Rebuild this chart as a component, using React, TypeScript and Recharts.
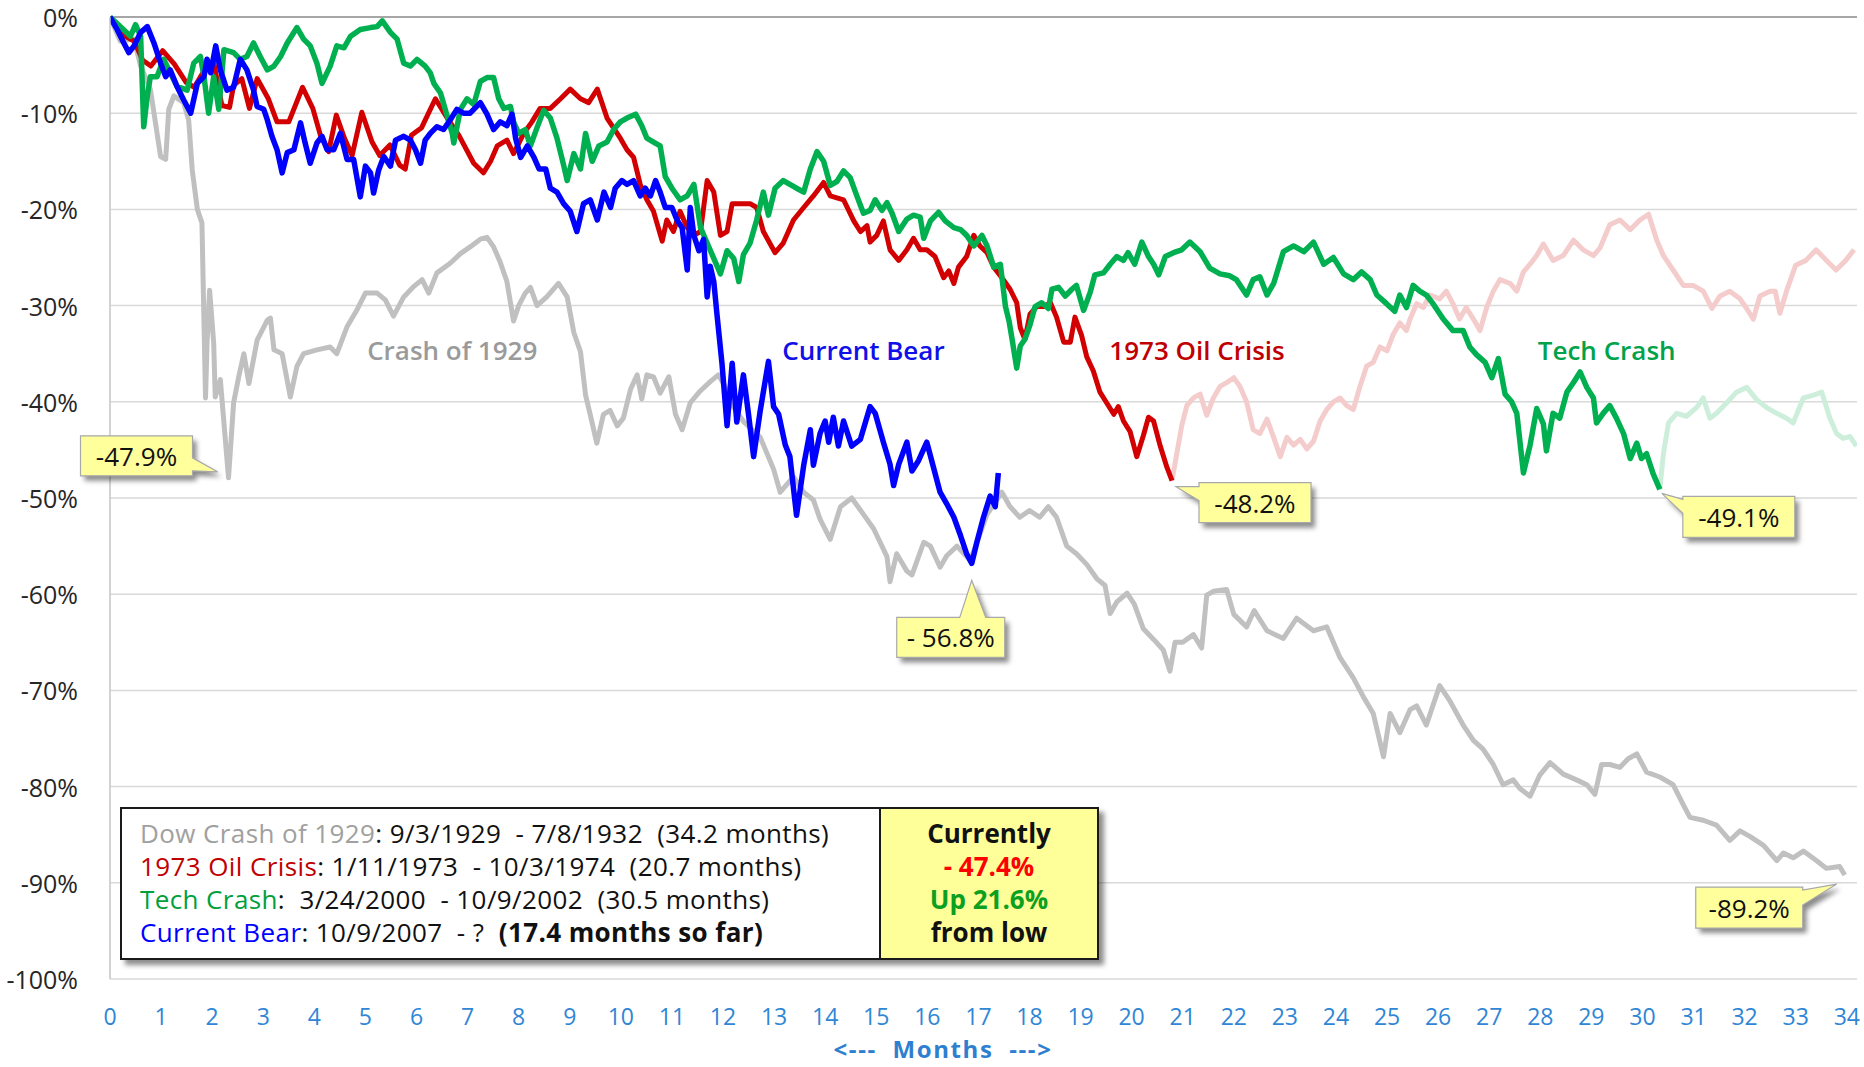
import React from "react";
import {
  LineChart,
  Line,
  XAxis,
  YAxis,
  CartesianGrid,
  ReferenceLine,
  ReferenceDot,
} from "recharts";

// [month, % from peak]
const CRASH_1929: [number, number][] = [
  [0, 0], [0.2, -2.5], [0.47, -2.3], [0.6, -5.1], [0.79, -7.5], [0.99, -14.5], [1.09, -14.8], [1.15, -9.6],
  [1.25, -8.2], [1.44, -8.9], [1.54, -10.7], [1.61, -15.9], [1.71, -20.0], [1.8, -21.4], [1.87, -39.6], [1.9, -33.9],
  [1.95, -28.4], [2.03, -33.9], [2.06, -39.5], [2.16, -37.7], [2.32, -47.9], [2.42, -40.1], [2.52, -37.4], [2.62, -35.0],
  [2.72, -38.1], [2.88, -33.6], [3.08, -31.5], [3.14, -31.3], [3.21, -34.6], [3.37, -35.0], [3.53, -39.5], [3.66, -36.3],
  [3.79, -35.0], [4.05, -34.6], [4.31, -34.3], [4.44, -35.0], [4.64, -32.2], [4.84, -30.4], [5.0, -28.7], [5.23, -28.7],
  [5.39, -29.4], [5.55, -31.1], [5.75, -29.1], [5.95, -28.0], [6.11, -27.3], [6.24, -28.7], [6.4, -26.6], [6.66, -25.6],
  [6.86, -24.6], [7.05, -23.9], [7.25, -23.1], [7.38, -22.9], [7.51, -23.9], [7.64, -25.5], [7.77, -27.5], [7.9, -31.6],
  [8.0, -30.0], [8.13, -28.7], [8.23, -28.1], [8.36, -30.0], [8.55, -29.1], [8.78, -27.7], [8.95, -29.1], [9.08, -32.8],
  [9.21, -34.8], [9.31, -39.3], [9.4, -41.3], [9.53, -44.3], [9.66, -41.3], [9.79, -40.9], [9.93, -42.5], [10.05, -41.7],
  [10.19, -38.7], [10.32, -37.2], [10.41, -39.7], [10.51, -37.2], [10.64, -37.4], [10.77, -39.1], [10.94, -37.4], [11.07, -41.3],
  [11.2, -42.9], [11.36, -40.1], [11.55, -38.9], [11.75, -37.9], [11.91, -37.2], [12.05, -38.5], [12.2, -40.5], [12.41, -42.1],
  [12.73, -43.7], [12.99, -47.0], [13.12, -49.4], [13.38, -47.8], [13.58, -49.4], [13.77, -50.2], [13.9, -52.2], [14.1, -54.3],
  [14.3, -50.9], [14.52, -50.0], [14.75, -51.7], [14.95, -53.2], [15.21, -56.1], [15.27, -58.7], [15.4, -55.8], [15.6, -57.6],
  [15.7, -58.0], [15.93, -54.6], [16.06, -55.0], [16.25, -57.2], [16.38, -56.0], [16.58, -55.0], [16.84, -56.5], [17.17, -51.7],
  [17.46, -49.4], [17.62, -50.9], [17.81, -52.0], [18.0, -51.3], [18.2, -52.0], [18.37, -50.9], [18.53, -52.0], [18.73, -55.0],
  [18.92, -55.8], [19.12, -56.9], [19.32, -58.4], [19.48, -59.1], [19.58, -62.0], [19.71, -60.8], [19.91, -59.9], [20.05, -61.0],
  [20.23, -63.6], [20.43, -64.7], [20.62, -65.8], [20.75, -68.0], [20.85, -65.0], [21.0, -65.0], [21.21, -64.2], [21.37, -65.6],
  [21.47, -60.1], [21.6, -59.7], [21.86, -59.5], [22.0, -62.1], [22.25, -63.4], [22.4, -61.7], [22.65, -63.8], [22.97, -64.6],
  [23.23, -62.5], [23.56, -63.8], [23.82, -63.4], [24.08, -66.6], [24.34, -68.7], [24.54, -70.7], [24.73, -72.4], [24.93, -76.9],
  [25.06, -72.4], [25.25, -74.4], [25.45, -72.0], [25.58, -71.6], [25.77, -73.6], [26.03, -69.5], [26.23, -71.1], [26.49, -73.6],
  [26.69, -75.2], [26.88, -76.1], [27.08, -77.7], [27.27, -79.8], [27.47, -79.3], [27.6, -80.2], [27.8, -81.0], [27.99, -78.8],
  [28.19, -77.5], [28.45, -78.7], [28.71, -79.3], [28.91, -79.8], [29.07, -80.8], [29.2, -77.7], [29.36, -77.7], [29.56, -78.0],
  [29.72, -77.1], [29.89, -76.6], [30.08, -78.5], [30.34, -79.0], [30.6, -79.8], [30.8, -81.9], [30.93, -83.2], [31.19, -83.5],
  [31.45, -84.0], [31.71, -85.6], [31.91, -84.6], [32.11, -85.2], [32.37, -86.1], [32.63, -87.7], [32.76, -86.9], [32.95, -87.4],
  [33.15, -86.7], [33.41, -87.7], [33.6, -88.5], [33.86, -88.3], [33.96, -89.2],
];

const OIL_1973: [number, number][] = [
  [0, 0], [0.3, -2.0], [0.47, -2.5], [0.64, -4.5], [0.8, -5.1], [1.03, -3.5], [1.26, -4.9], [1.49, -6.8],
  [1.65, -7.3], [1.85, -5.5], [2.03, -4.7], [2.19, -9.2], [2.34, -9.4], [2.42, -7.1], [2.58, -6.4], [2.73, -9.5],
  [2.88, -6.4], [3.1, -8.5], [3.27, -10.9], [3.5, -10.9], [3.77, -7.3], [3.97, -9.5], [4.12, -12.3], [4.28, -14.0],
  [4.43, -10.2], [4.59, -12.6], [4.74, -14.4], [4.93, -9.9], [5.13, -13.0], [5.28, -14.4], [5.48, -13.3], [5.67, -15.4],
  [5.78, -15.8], [5.9, -12.3], [6.1, -11.5], [6.37, -8.5], [6.6, -10.5], [6.83, -12.3], [7.12, -15.2], [7.31, -16.2],
  [7.45, -15.0], [7.58, -13.4], [7.77, -12.8], [7.9, -14.2], [8.1, -12.1], [8.26, -10.9], [8.42, -9.5], [8.62, -9.5],
  [8.82, -8.5], [9.01, -7.5], [9.21, -8.5], [9.37, -8.9], [9.54, -7.5], [9.73, -10.5], [9.99, -12.6], [10.12, -13.8],
  [10.25, -14.6], [10.38, -17.4], [10.51, -19.0], [10.64, -20.2], [10.81, -23.3], [10.9, -21.1], [11.03, -22.3], [11.16, -20.2],
  [11.3, -21.9], [11.43, -22.7], [11.56, -22.3], [11.69, -17.0], [11.82, -18.2], [11.95, -22.7], [12.08, -22.3], [12.18, -19.4],
  [12.34, -19.4], [12.53, -19.4], [12.66, -19.8], [12.79, -22.3], [13.02, -24.5], [13.18, -23.5], [13.38, -21.1], [13.58, -19.8],
  [13.77, -18.6], [13.97, -17.2], [14.1, -18.6], [14.36, -19.0], [14.56, -21.2], [14.69, -22.3], [14.82, -21.7], [14.88, -23.4],
  [15.01, -22.7], [15.14, -21.2], [15.27, -24.2], [15.44, -25.3], [15.6, -24.2], [15.73, -23.0], [15.86, -24.2], [15.99, -24.2],
  [16.15, -24.9], [16.32, -27.1], [16.42, -26.4], [16.52, -27.7], [16.61, -26.0], [16.77, -24.9], [16.91, -22.7], [17.03, -23.8],
  [17.17, -24.5], [17.3, -26.0], [17.46, -27.1], [17.62, -28.3], [17.75, -29.7], [17.82, -32.3], [17.91, -33.5], [18.01, -30.9],
  [18.14, -30.1], [18.28, -30.1], [18.41, -29.7], [18.53, -31.2], [18.67, -33.8], [18.8, -33.8], [18.89, -31.2], [19.02, -33.1],
  [19.12, -35.3], [19.25, -36.8], [19.38, -39.0], [19.51, -40.1], [19.65, -41.3], [19.74, -40.5], [19.84, -42.0], [19.97, -43.1],
  [20.1, -45.7], [20.23, -43.5], [20.33, -41.6], [20.43, -42.0], [20.56, -44.6], [20.69, -46.8], [20.79, -48.2],
];

// 1974 recovery drawn faded after the low
const OIL_AFTER: [number, number][] = [
  [20.79, -48.2], [20.88, -45.5], [20.98, -42.5], [21.08, -40.4], [21.21, -39.6], [21.34, -39.2], [21.47, -41.4], [21.6, -39.6],
  [21.73, -38.4], [21.86, -38.0], [22.0, -37.5], [22.12, -38.4], [22.25, -40.0], [22.38, -42.9], [22.51, -43.3], [22.65, -41.8],
  [22.78, -43.7], [22.91, -45.7], [23.04, -43.7], [23.17, -44.5], [23.3, -43.9], [23.43, -44.9], [23.56, -44.1], [23.69, -42.0],
  [23.82, -40.8], [23.95, -40.0], [24.08, -39.6], [24.21, -40.4], [24.34, -40.8], [24.47, -38.4], [24.6, -36.3], [24.73, -35.9],
  [24.86, -34.3], [25.0, -34.7], [25.12, -33.0], [25.25, -31.8], [25.38, -32.6], [25.45, -31.4], [25.58, -29.8], [25.71, -30.2],
  [25.84, -28.9], [26.03, -29.3], [26.16, -28.5], [26.29, -29.8], [26.42, -31.4], [26.55, -30.2], [26.69, -31.4], [26.82, -32.6],
  [26.95, -30.2], [27.08, -28.5], [27.21, -27.3], [27.41, -27.7], [27.54, -28.5], [27.67, -26.5], [27.8, -25.7], [27.93, -24.8],
  [28.06, -23.6], [28.25, -25.3], [28.45, -24.8], [28.65, -23.2], [28.84, -24.2], [29.04, -24.8], [29.17, -24.0], [29.36, -21.6],
  [29.56, -21.1], [29.76, -22.1], [29.95, -21.1], [30.12, -20.5], [30.28, -23.2], [30.41, -24.8], [30.6, -26.3], [30.8, -27.9],
  [30.99, -27.9], [31.19, -28.5], [31.36, -30.3], [31.52, -29.0], [31.71, -28.5], [31.91, -29.3], [32.04, -30.3], [32.17, -31.4],
  [32.3, -29.0], [32.5, -28.5], [32.6, -28.5], [32.69, -30.8], [32.82, -28.5], [33.0, -25.8], [33.2, -25.3], [33.4, -24.2],
  [33.6, -25.3], [33.79, -26.3], [33.98, -25.3], [34.14, -24.2],
];

const TECH_2000: [number, number][] = [
  [0, 0], [0.2, -1.0], [0.4, -2.0], [0.5, -0.8], [0.6, -2.0], [0.66, -11.4], [0.73, -8.2], [0.79, -6.2],
  [0.92, -6.2], [1.05, -4.4], [1.18, -5.8], [1.31, -7.2], [1.51, -7.6], [1.64, -4.8], [1.77, -4.1], [1.84, -6.2],
  [1.93, -10.0], [2.03, -6.2], [2.13, -9.6], [2.23, -3.4], [2.42, -3.7], [2.55, -4.4], [2.68, -4.1], [2.81, -2.7],
  [2.94, -4.1], [3.08, -5.5], [3.21, -5.1], [3.34, -4.1], [3.47, -2.7], [3.66, -1.1], [3.79, -2.3], [3.92, -3.0],
  [4.05, -4.8], [4.15, -6.9], [4.31, -5.1], [4.44, -3.0], [4.58, -3.2], [4.71, -2.0], [4.9, -1.3], [5.1, -1.1],
  [5.23, -1.0], [5.33, -0.4], [5.49, -1.6], [5.62, -2.3], [5.75, -4.8], [5.88, -5.1], [6.01, -4.4], [6.17, -5.1],
  [6.27, -5.8], [6.34, -6.9], [6.47, -7.9], [6.6, -10.3], [6.7, -12.1], [6.73, -13.1], [6.86, -9.6], [6.99, -8.5],
  [7.12, -9.1], [7.25, -6.7], [7.38, -6.3], [7.51, -6.3], [7.61, -8.5], [7.71, -9.5], [7.84, -9.3], [7.9, -10.9],
  [8.0, -12.1], [8.13, -11.7], [8.23, -13.4], [8.36, -11.5], [8.49, -9.7], [8.62, -10.5], [8.75, -12.6], [8.88, -15.4],
  [8.95, -17.0], [9.08, -14.2], [9.21, -15.8], [9.31, -12.1], [9.44, -15.0], [9.57, -13.4], [9.73, -13.0], [9.86, -11.7],
  [9.99, -10.9], [10.12, -10.5], [10.29, -10.1], [10.41, -11.3], [10.51, -12.6], [10.64, -13.0], [10.77, -13.4], [10.87, -16.6],
  [11.0, -17.8], [11.16, -19.0], [11.3, -18.6], [11.43, -17.4], [11.56, -21.9], [11.69, -23.5], [11.82, -25.1], [11.95, -26.7],
  [12.08, -24.3], [12.21, -25.1], [12.31, -27.5], [12.4, -24.7], [12.53, -23.5], [12.66, -21.1], [12.79, -18.2], [12.89, -20.6],
  [13.02, -17.8], [13.18, -17.0], [13.31, -17.4], [13.44, -17.8], [13.58, -18.2], [13.71, -15.8], [13.84, -14.0], [13.97, -15.0],
  [14.1, -17.5], [14.23, -17.1], [14.36, -16.0], [14.49, -16.7], [14.62, -18.6], [14.75, -20.4], [14.88, -20.1], [14.98, -19.0],
  [15.11, -20.1], [15.21, -19.3], [15.31, -20.4], [15.44, -22.3], [15.6, -21.0], [15.73, -20.6], [15.86, -20.8], [15.93, -23.0],
  [16.06, -21.2], [16.22, -20.3], [16.35, -21.2], [16.52, -21.9], [16.65, -22.1], [16.77, -22.7], [16.91, -23.8], [17.07, -22.7],
  [17.17, -23.8], [17.3, -26.0], [17.43, -25.7], [17.53, -30.1], [17.6, -31.6], [17.66, -33.5], [17.75, -36.5], [17.82, -34.2],
  [17.91, -33.5], [18.01, -32.0], [18.11, -30.1], [18.24, -29.7], [18.37, -30.3], [18.44, -28.3], [18.57, -28.1], [18.7, -29.0],
  [18.83, -28.3], [18.92, -27.9], [19.06, -30.5], [19.19, -28.6], [19.28, -26.8], [19.45, -26.6], [19.58, -25.7], [19.71, -24.9],
  [19.84, -25.3], [19.93, -24.5], [20.06, -25.7], [20.2, -23.4], [20.33, -24.9], [20.43, -25.7], [20.53, -26.8], [20.66, -24.9],
  [20.82, -24.5], [20.98, -24.2], [21.14, -23.4], [21.34, -24.4], [21.53, -26.1], [21.73, -26.7], [21.92, -26.9], [22.05, -27.3],
  [22.25, -28.9], [22.38, -27.3], [22.51, -27.0], [22.65, -28.9], [22.78, -27.7], [22.97, -24.4], [23.17, -23.8], [23.37, -24.4],
  [23.56, -23.4], [23.76, -25.7], [23.95, -25.0], [24.15, -26.7], [24.34, -27.3], [24.5, -26.5], [24.67, -27.3], [24.8, -28.9],
  [24.99, -29.8], [25.15, -30.6], [25.25, -28.9], [25.38, -30.2], [25.51, -27.9], [25.64, -28.5], [25.77, -28.9], [25.9, -29.8],
  [26.1, -31.4], [26.29, -32.6], [26.49, -32.6], [26.62, -34.3], [26.75, -35.1], [26.92, -35.9], [27.05, -37.5], [27.18, -35.5],
  [27.31, -39.2], [27.44, -40.0], [27.54, -41.2], [27.67, -47.4], [27.8, -44.5], [27.93, -40.7], [28.06, -42.3], [28.12, -45.1],
  [28.25, -41.2], [28.38, -41.7], [28.52, -39.0], [28.65, -38.0], [28.78, -36.9], [28.91, -38.5], [29.04, -39.6], [29.1, -42.2],
  [29.23, -41.2], [29.36, -40.4], [29.49, -41.7], [29.63, -43.3], [29.76, -45.9], [29.89, -44.3], [29.98, -45.9], [30.08, -45.4],
  [30.21, -47.5], [30.34, -49.1],
];

const TECH_AFTER: [number, number][] = [
  [30.34, -49.1], [30.41, -45.4], [30.51, -42.2], [30.67, -41.2], [30.86, -41.5], [31.06, -40.6], [31.19, -39.6], [31.32, -41.7],
  [31.45, -41.2], [31.65, -40.1], [31.84, -39.0], [32.04, -38.5], [32.24, -39.8], [32.43, -40.6], [32.63, -41.2], [32.82, -41.7],
  [32.95, -42.2], [33.15, -39.6], [33.35, -39.3], [33.51, -39.0], [33.67, -41.7], [33.8, -43.3], [33.93, -43.8], [34.06, -43.6],
  [34.19, -44.6],
];

const CURRENT_BEAR: [number, number][] = [
  [0, 0], [0.14, -1.3], [0.27, -2.7], [0.37, -3.7], [0.47, -3.0], [0.6, -1.6], [0.73, -1.0], [0.86, -2.7],
  [0.99, -4.8], [1.09, -6.2], [1.18, -5.5], [1.31, -7.2], [1.44, -8.6], [1.58, -10.0], [1.71, -6.9], [1.84, -6.2],
  [1.9, -4.4], [1.97, -5.8], [2.07, -3.0], [2.16, -5.5], [2.29, -7.6], [2.42, -7.3], [2.55, -4.4], [2.68, -5.5],
  [2.81, -7.6], [2.88, -9.3], [3.01, -9.6], [3.08, -10.7], [3.17, -12.4], [3.27, -13.8], [3.37, -16.2], [3.47, -14.1],
  [3.6, -13.8], [3.73, -11.0], [3.82, -13.1], [3.92, -15.2], [4.05, -13.1], [4.15, -12.4], [4.25, -13.8], [4.38, -13.8],
  [4.51, -12.1], [4.64, -14.8], [4.77, -14.8], [4.9, -18.7], [5.0, -15.5], [5.1, -16.2], [5.16, -18.3], [5.26, -15.9],
  [5.36, -14.5], [5.49, -15.5], [5.59, -12.8], [5.75, -12.4], [5.88, -12.8], [5.98, -13.8], [6.08, -15.2], [6.17, -12.8],
  [6.27, -12.1], [6.4, -11.4], [6.53, -11.7], [6.66, -10.7], [6.79, -9.6], [6.92, -10.0], [7.05, -10.0], [7.25, -8.9],
  [7.38, -10.1], [7.51, -11.7], [7.64, -10.9], [7.77, -11.3], [7.87, -10.1], [7.94, -12.6], [8.04, -14.6], [8.17, -13.4],
  [8.3, -14.6], [8.4, -15.8], [8.53, -15.8], [8.62, -17.8], [8.75, -18.2], [8.88, -19.4], [9.01, -20.2], [9.14, -22.3],
  [9.27, -19.4], [9.4, -19.0], [9.54, -21.1], [9.67, -18.2], [9.8, -19.8], [9.89, -17.8], [10.02, -17.0], [10.12, -17.4],
  [10.25, -17.0], [10.38, -18.6], [10.48, -17.8], [10.58, -18.6], [10.68, -17.0], [10.77, -18.2], [10.87, -19.8], [11.0, -19.8],
  [11.1, -21.1], [11.2, -21.9], [11.3, -26.3], [11.36, -19.8], [11.43, -22.7], [11.53, -24.3], [11.62, -23.1], [11.69, -29.1],
  [11.75, -25.9], [11.82, -27.5], [11.88, -30.8], [11.98, -36.0], [12.08, -42.5], [12.18, -36.0], [12.27, -42.1], [12.4, -37.2],
  [12.5, -41.3], [12.6, -45.7], [12.73, -40.9], [12.89, -35.8], [12.99, -40.5], [13.09, -41.3], [13.22, -44.5], [13.31, -45.7],
  [13.44, -51.8], [13.58, -46.6], [13.71, -42.9], [13.77, -46.6], [13.9, -43.3], [14.0, -42.0], [14.07, -44.2], [14.16, -41.6],
  [14.26, -44.6], [14.36, -42.0], [14.52, -44.6], [14.69, -43.9], [14.88, -40.5], [14.98, -41.2], [15.14, -44.2], [15.27, -46.5],
  [15.34, -48.7], [15.44, -46.5], [15.6, -44.2], [15.7, -47.2], [15.83, -46.1], [15.99, -44.2], [16.12, -46.8], [16.25, -49.4],
  [16.38, -50.6], [16.52, -52.0], [16.65, -53.9], [16.77, -55.8], [16.87, -56.8], [16.97, -54.6], [17.1, -52.0], [17.23, -49.8],
  [17.33, -50.9], [17.39, -47.4],
];

const MONTH_TICKS = Array.from({ length: 35 }, (_, i) => i);
const PCT_TICKS = [0, -10, -20, -30, -40, -50, -60, -70, -80, -90, -100];

// low points called out on the chart
const LOWS: { m: number; v: number; text: string }[] = [
  { m: 2.32, v: -47.9, text: "-47.9%" },
  { m: 16.87, v: -56.8, text: "- 56.8%" },
  { m: 20.79, v: -48.2, text: "-48.2%" },
  { m: 30.34, v: -49.1, text: "-49.1%" },
  { m: 33.96, v: -89.2, text: "-89.2%" },
];

const SERIES_LABELS = [
  { m: 6.7, v: -34.6, text: "Crash of 1929", color: "#9a9a9a" },
  { m: 14.75, v: -34.6, text: "Current Bear", color: "#1010e8" },
  { m: 21.28, v: -34.6, text: "1973 Oil Crisis", color: "#c00000" },
  { m: 29.3, v: -34.6, text: "Tech Crash", color: "#00a24a" },
];

const toPts = (arr: [number, number][]) => arr.map(([m, v]) => ({ m, v }));

const FONT = "'Open Sans', 'Liberation Sans', sans-serif";

// box: [left, top, width, height] offset from the point; wedge edge, base (along the edge) and tip
const CALLOUT_LAYOUT = [
  { box: [-148, -42, 112, 40], edge: "right", base: [22, 35], tip: [-11, -6] },
  { box: [-75, 54, 108, 40], edge: "top", base: [63, 89], tip: [0, 17] },
  { box: [27, 2, 112, 40], edge: "left", base: [4, 18], tip: [4, 6] },
  { box: [23, 7, 112, 41], edge: "left", base: [3, 17], tip: [2, 4] },
  { box: [-149, 12, 107, 41], edge: "right", base: [3, 18], tip: [-8, 9] },
];

function calloutShape(text: string, layout: any, idx: number) {
  return (props: any) => {
    const { cx, cy } = props;
    const [bx, by, bw, bh] = layout.box;
    const x0 = cx + bx, y0 = cy + by, x1 = x0 + bw, y1 = y0 + bh;
    const tx = cx + layout.tip[0], ty = cy + layout.tip[1];
    const [b1, b2] = layout.base;
    let pts: number[][];
    if (layout.edge === "top") {
      pts = [[x0, y0], [x0 + b1, y0], [tx, ty], [x0 + b2, y0], [x1, y0], [x1, y1], [x0, y1]];
    } else if (layout.edge === "right") {
      pts = [[x0, y0], [x1, y0], [x1, y0 + b1], [tx, ty], [x1, y0 + b2], [x1, y1], [x0, y1]];
    } else {
      pts = [[x0, y0], [x1, y0], [x1, y1], [x0, y1], [x0, y0 + b2], [tx, ty], [x0, y0 + b1]];
    }
    const d = pts.map((p) => p.join(",")).join(" ");
    const fid = `callout-shadow-${idx}`;
    return (
      <g>
        <defs>
          <filter id={fid} x="-20%" y="-30%" width="140%" height="170%">
            <feGaussianBlur stdDeviation="2.5" />
          </filter>
        </defs>
        <polygon points={d} fill="rgba(0,0,0,0.45)" transform="translate(4,5)" filter={`url(#${fid})`} />
        <polygon points={d} fill="#ffff9c" stroke="#a8a8a8" strokeWidth={1.2} />
        <text
          x={x0 + bw / 2}
          y={y0 + bh / 2}
          textAnchor="middle"
          dominantBaseline="central"
          fontFamily={FONT}
          fontSize={26}
          fill="#111"
        >
          {text}
        </text>
      </g>
    );
  };
}

function labelShape(text: string, color: string) {
  return (props: any) => (
    <text
      x={props.cx}
      y={props.cy}
      textAnchor="middle"
      dominantBaseline="central"
      fontFamily={FONT}
      fontSize={26}
      fontWeight={600}
      fill={color}
    >
      {text}
    </text>
  );
}

const XTick = ({ x, y, payload }: any) => (
  <text x={x} y={y + 35} textAnchor="middle" dominantBaseline="central" fontFamily={FONT} fontSize={23} fill="#2f86d6">
    {payload.value}
  </text>
);

const YTick = ({ x, y, payload }: any) => (
  <text x={x - 30} y={y} textAnchor="end" dominantBaseline="central" fontFamily={FONT} fontSize={25} fill="#262626">
    {`${payload.value}%`}
  </text>
);

export default function App() {
  const lineBase = { type: "linear" as const, dataKey: "v", dot: false, isAnimationActive: false, strokeLinejoin: "round" as const };
  return (
    <div style={{ position: "absolute", left: 0, top: 0, width: 1864, height: 1067, background: "#fff", fontFamily: FONT, overflow: "hidden" }}>
      <LineChart width={1864} height={1067} margin={{ top: 17, right: 7, bottom: 28, left: 0 }}>
        <CartesianGrid vertical={false} stroke="#d9d9d9" strokeWidth={1.5} />
        <XAxis
          type="number"
          dataKey="m"
          domain={[0, 34.2]}
          ticks={MONTH_TICKS}
          interval={0}
          axisLine={false}
          tickLine={false}
          tickSize={0}
          height={60}
          tick={<XTick />}
          allowDataOverflow
        />
        <YAxis
          type="number"
          domain={[-100, 0]}
          ticks={PCT_TICKS}
          interval={0}
          width={110}
          axisLine={{ stroke: "#c4c4c4", strokeWidth: 1.5 }}
          tickLine={false}
          tickSize={0}
          tick={<YTick />}
        />
        <ReferenceLine y={0} stroke="#a6a6a6" strokeWidth={2} />
        <Line {...lineBase} data={toPts(CRASH_1929)} stroke="#c0c0c0" strokeWidth={5} />
        <Line {...lineBase} data={toPts(OIL_AFTER)} stroke="#f4cccc" strokeWidth={5} />
        <Line {...lineBase} data={toPts(TECH_AFTER)} stroke="#cdeedb" strokeWidth={5} />
        <Line {...lineBase} data={toPts(OIL_1973)} stroke="#d20000" strokeWidth={5} />
        <Line {...lineBase} data={toPts(TECH_2000)} stroke="#00b050" strokeWidth={5.5} />
        <Line {...lineBase} data={toPts(CURRENT_BEAR)} stroke="#0000ff" strokeWidth={5.5} />
        {SERIES_LABELS.map((l) => (
          <ReferenceDot key={l.text} x={l.m} y={l.v} r={0} shape={labelShape(l.text, l.color)} />
        ))}
        {LOWS.map((p, i) => (
          <ReferenceDot key={p.text} x={p.m} y={p.v} r={0} shape={calloutShape(p.text, CALLOUT_LAYOUT[i], i)} />
        ))}
      </LineChart>

      <div
        style={{
          position: "absolute",
          left: 0,
          width: 1864,
          top: 1034,
          textAlign: "center",
          paddingLeft: 22,
          boxSizing: "border-box",
          fontSize: 24,
          lineHeight: "30px",
          fontWeight: 700,
          letterSpacing: 1.6,
          color: "#2f7fd0",
          whiteSpace: "pre",
        }}
      >
        {"<---  Months  --->"}
      </div>

      <div
        style={{
          position: "absolute",
          left: 120,
          top: 807,
          width: 979,
          height: 153,
          boxSizing: "border-box",
          border: "2px solid #1a1a1a",
          background: "#fff",
          boxShadow: "5px 5px 5px rgba(0,0,0,0.45)",
          display: "flex",
          fontSize: 26,
          letterSpacing: 0.4,
          lineHeight: "33px",
          color: "#111",
        }}
      >
        <div style={{ width: 757, padding: "8px 0 0 18px", boxSizing: "border-box", whiteSpace: "pre" }}>
          <div>
            <span style={{ color: "#a0a0a0" }}>Dow Crash of 1929</span>: 9/3/1929  - 7/8/1932  (34.2 months)
          </div>
          <div>
            <span style={{ color: "#c00000" }}>1973 Oil Crisis</span>: 1/11/1973  - 10/3/1974  (20.7 months)
          </div>
          <div>
            <span style={{ color: "#00a03c" }}>Tech Crash</span>:  3/24/2000  - 10/9/2002  (30.5 months)
          </div>
          <div>
            <span style={{ color: "#0000ff" }}>Current Bear</span>: 10/9/2007  - ?  <b>(17.4 months so far)</b>
          </div>
        </div>
        <div
          style={{
            flex: 1,
            borderLeft: "2px solid #1a1a1a",
            background: "#ffff99",
            textAlign: "center",
            fontWeight: 700,
            paddingTop: 8,
            boxSizing: "border-box",
            letterSpacing: 0,
          }}
        >
          <div>Currently</div>
          <div style={{ color: "#ff0000" }}>- 47.4%</div>
          <div style={{ color: "#0ca020" }}>Up 21.6%</div>
          <div>from low</div>
        </div>
      </div>
    </div>
  );
}
